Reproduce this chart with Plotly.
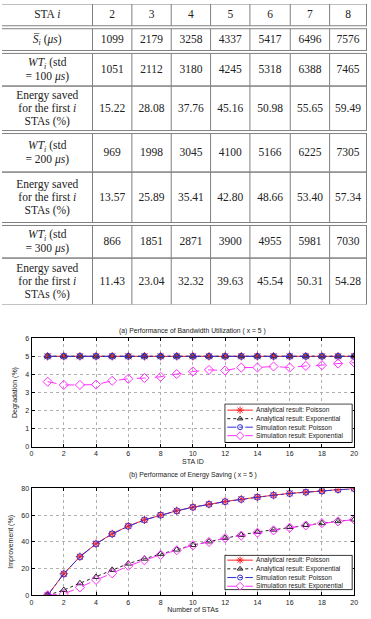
import plotly.graph_objects as go

W, H = 371, 619

# ---------------- table data ----------------
sta_ids = [2, 3, 4, 5, 6, 7, 8]
s_mean = [1099, 2179, 3258, 4337, 5417, 6496, 7576]
wt_100 = [1051, 2112, 3180, 4245, 5318, 6388, 7465]
e_100 = [15.22, 28.08, 37.76, 45.16, 50.98, 55.65, 59.49]
wt_200 = [969, 1998, 3045, 4100, 5166, 6225, 7305]
e_200 = [13.57, 25.89, 35.41, 42.80, 48.66, 53.40, 57.34]
wt_300 = [866, 1851, 2871, 3900, 4955, 5981, 7030]
e_300 = [11.43, 23.04, 32.32, 39.63, 45.54, 50.31, 54.28]

row_labels = [
    ["STA <i>i</i>"],
    ["<i>S̅</i><sub><i>i</i></sub> (<i>μs</i>)"],
    ["<i>WT</i><sub><i>i</i></sub> (std", "= 100 <i>μs</i>)"],
    ["Energy saved", "for the first <i>i</i>", "STAs (%)"],
    ["<i>WT</i><sub><i>i</i></sub> (std", "= 200 <i>μs</i>)"],
    ["Energy saved", "for the first <i>i</i>", "STAs (%)"],
    ["<i>WT</i><sub><i>i</i></sub> (std", "= 300 <i>μs</i>)"],
    ["Energy saved", "for the first <i>i</i>", "STAs (%)"],
]
row_values = [
    [str(v) for v in sta_ids],
    [str(v) for v in s_mean],
    [str(v) for v in wt_100],
    [f"{v:.2f}" for v in e_100],
    [str(v) for v in wt_200],
    [f"{v:.2f}" for v in e_200],
    [str(v) for v in wt_300],
    [f"{v:.2f}" for v in e_300],
]

# ---------------- chart data ----------------
sta_x = [1, 2, 3, 4, 5, 6, 7, 8, 9, 10, 11, 12, 13, 14, 15, 16, 17, 18, 19, 20]
a_ana_poisson = [5, 5, 5, 5, 5, 5, 5, 5, 5, 5, 5, 5, 5, 5, 5, 5, 5, 5, 5, 5]
a_ana_expo = [5, 5, 5, 5, 5, 5, 5, 5, 5, 5, 5, 5, 5, 5, 5, 5, 5, 5, 5, 5]
a_sim_poisson = [5, 5, 5, 5, 5, 5, 5, 5, 5, 5, 5, 5, 5, 5, 5, 5, 5, 5, 5, 5]
a_sim_expo = [3.6, 3.42, 3.42, 3.44, 3.65, 3.76, 3.8, 3.87, 4.02, 4.16,
              4.25, 4.22, 4.38, 4.38, 4.44, 4.38, 4.47, 4.51, 4.6, 4.65]

n_x = [1, 2, 3, 4, 5, 6, 7, 8, 9, 10, 11, 12, 13, 14, 15, 16, 17, 18, 19, 20]
b_ana_poisson = [0, 16.1, 28.9, 38.6, 46.0, 51.8, 56.5, 60.1, 63.3, 66.0,
                 68.2, 70.2, 71.9, 73.6, 75.0, 76.3, 77.3, 78.2, 79.2, 80.0]
b_sim_poisson = [0, 16.0, 28.8, 38.5, 45.9, 51.7, 56.4, 60.0, 63.2, 65.9,
                 68.1, 70.1, 71.8, 73.5, 74.9, 76.2, 77.2, 78.1, 79.1, 79.9]
b_ana_expo = [0, 3.9, 9.0, 13.7, 19.0, 23.7, 27.4, 31.0, 34.2, 37.6,
              40.3, 43.0, 45.2, 47.4, 49.1, 51.1, 52.6, 54.0, 55.5, 56.7]
b_sim_expo = [0, 1.0, 5.9, 11.5, 16.4, 22.0, 26.2, 30.3, 33.7, 37.4,
              39.9, 42.8, 44.7, 46.9, 48.6, 50.6, 52.3, 54.0, 55.3, 56.7]

series_names = ["Analytical result: Poisson", "Analytical result: Exponential",
                "Simulation result: Poisson", "Simulation result: Exponential"]

# ---------------- layout constants (pixels) ----------------
col_edges = [0, 92, 132, 172, 212, 252, 293, 333, 370.5]
row_px = [(0, 22), (25, 47), (50, 83), (83, 128), (131, 170), (170, 221), (224, 257), (257, 304)]
TABLE_BOTTOM = 304
LINE_GAP = {1: 0, 2: 13.5, 3: 13.3}

TF = "Liberation Serif"
CF = "Liberation Sans"
TXT = "#222222"
RULE = "#808080"

fig = go.Figure()
shapes = []
annotations = []

# ---------------- table (helper axes x5/y5 in pixel units) ----------------
cell_x, cell_y, cell_t = [], [], []
for lab_lines, vals, (t, b) in zip(row_labels, row_values, row_px):
    yc = (t + b) / 2 + 0.5
    n = len(lab_lines)
    for k, line in enumerate(lab_lines):
        cell_x.append((col_edges[0] + col_edges[1]) / 2)
        cell_y.append(yc + (k - (n - 1) / 2) * LINE_GAP[n])
        cell_t.append(line)
    for c, txt in enumerate(vals, start=1):
        cell_x.append((col_edges[c] + col_edges[c + 1]) / 2)
        cell_y.append(yc)
        cell_t.append(txt)
    for yy in (t, b):
        shapes.append(dict(type="line", xref="x5", yref="y5", x0=0, x1=W, y0=yy, y1=yy,
                           line=dict(color=RULE, width=1), layer="above"))
    for xe in col_edges[1:]:
        shapes.append(dict(type="line", xref="x5", yref="y5", x0=xe, x1=xe, y0=t, y1=b,
                           line=dict(color=RULE, width=1), layer="above"))

fig.add_trace(go.Scatter(
    x=cell_x, y=cell_y, text=cell_t, mode="text", textposition="middle center",
    textfont=dict(family=TF, size=11.5, color=TXT), xaxis="x5", yaxis="y5",
    showlegend=False, hoverinfo="skip"))

# ---------------- charts ----------------
styles = [
    dict(color="#ff2020", dash="solid", symbol="asterisk-open", size=7),
    dict(color="#222222", dash="dot", symbol="triangle-up-open", size=6),
    dict(color="#3030d8", dash="dashdot", symbol="circle-open", size=6),
    dict(color="#ff30ff", dash="dash", symbol="diamond-open", size=7),
]


def add_series(xs, ys_list, xa, ya):
    for name, ys, st in zip(series_names, ys_list, styles):
        fig.add_trace(go.Scatter(
            x=xs, y=ys, name=name, mode="lines+markers",
            xaxis=xa, yaxis=ya, showlegend=False,
            line=dict(color=st["color"], dash=st["dash"], width=1),
            marker=dict(symbol=st["symbol"], size=st["size"], color=st["color"],
                        line=dict(color=st["color"], width=1)),
        ))


add_series(sta_x, [a_ana_poisson, a_ana_expo, a_sim_poisson, a_sim_expo], "x", "y")
add_series(n_x, [b_ana_poisson, b_ana_expo, b_sim_poisson, b_sim_expo], "x2", "y2")

# ---------------- compact legends (helper axes x3/y3 and x4/y4, pixel units) ----------------
legend_boxes = [("x3", "y3", (226, 356.5, 404, 444), [6.8, 15.4, 24.0, 32.6]),
                ("x4", "y4", (226, 356.5, 557, 593), [5.5, 14.3, 23.1, 31.9])]
for xa, ya, (lx0, lx1, ly0, ly1), rows in legend_boxes:
    bw, bh = lx1 - lx0, ly1 - ly0
    fig.add_trace(go.Scatter(x=[0.5, bw - 0.5, bw - 0.5, 0.5, 0.5], y=[0.5, 0.5, bh - 0.5, bh - 0.5, 0.5],
                             mode="lines", fill="toself", fillcolor="white",
                             line=dict(color="black", width=1), xaxis=xa, yaxis=ya,
                             showlegend=False, hoverinfo="skip"))
    for name, st, ry in zip(series_names, styles, rows):
        fig.add_trace(go.Scatter(x=[3, 29], y=[ry, ry], mode="lines", xaxis=xa, yaxis=ya,
                                 line=dict(color=st["color"], dash=st["dash"], width=1),
                                 showlegend=False, hoverinfo="skip"))
        fig.add_trace(go.Scatter(x=[16], y=[ry], mode="markers", xaxis=xa, yaxis=ya,
                                 marker=dict(symbol=st["symbol"], size=st["size"] - 1, color=st["color"],
                                             line=dict(color=st["color"], width=1)),
                                 showlegend=False, hoverinfo="skip"))
        annotations.append(dict(text=name, xref=xa, yref=ya, x=30.5, y=ry, xanchor="left",
                                yanchor="middle", showarrow=False,
                                font=dict(family=CF, size=6.6, color=TXT)))

axis_common = dict(showline=True, linecolor="black", linewidth=1, mirror="ticks",
                   ticks="inside", ticklen=3, tickcolor="black",
                   showgrid=True, gridcolor="#b0b0b0", griddash="dot", gridwidth=1,
                   zeroline=False, tickfont=dict(family=CF, size=7, color=TXT))
hidden = dict(visible=False, showgrid=False, zeroline=False, fixedrange=True)

xd = [30 / W, 358 / W]
title_font = dict(family=CF, size=6.8, color=TXT)
axis_title_font = dict(family=CF, size=7, color=TXT)


def px_dom(top, bottom):
    return [1 - bottom / H, 1 - top / H]


fig.update_layout(
    width=W, height=H, margin=dict(l=0, r=0, t=0, b=0),
    paper_bgcolor="white", plot_bgcolor="white", showlegend=False,
    xaxis=dict(domain=xd, anchor="y", range=[0, 20], dtick=2, **axis_common,
               title=dict(text="STA ID", font=axis_title_font, standoff=2)),
    yaxis=dict(domain=px_dom(338, 448), anchor="x", range=[0, 6], dtick=1, **axis_common,
               title=dict(text="Degradation (%)", font=axis_title_font, standoff=6)),
    xaxis2=dict(domain=xd, anchor="y2", range=[0, 20], dtick=2, **axis_common,
                title=dict(text="Number of STAs", font=axis_title_font, standoff=1)),
    yaxis2=dict(domain=px_dom(490, 598), anchor="x2", range=[0, 80], dtick=20, **axis_common,
                title=dict(text="Improvement (%)", font=axis_title_font, standoff=6)),
    xaxis3=dict(domain=[226 / W, 356.5 / W], anchor="y3", range=[0, 130.5], **hidden),
    yaxis3=dict(domain=px_dom(404, 444), anchor="x3", range=[40, 0], **hidden),
    xaxis4=dict(domain=[226 / W, 356.5 / W], anchor="y4", range=[0, 130.5], **hidden),
    yaxis4=dict(domain=px_dom(557, 593), anchor="x4", range=[36, 0], **hidden),
    xaxis5=dict(domain=[0, 1], anchor="y5", range=[0, W], **hidden),
    yaxis5=dict(domain=px_dom(0, TABLE_BOTTOM), anchor="x5", range=[TABLE_BOTTOM, 0], **hidden),
    shapes=shapes,
    annotations=annotations + [
        dict(text="(a) Performance of Bandwidth Utilization ( x = 5 )", x=(xd[0] + xd[1]) / 2,
             y=1 - 331 / H, xref="paper", yref="paper", showarrow=False, font=title_font),
        dict(text="(b) Performance of Energy Saving ( x = 5 )", x=(xd[0] + xd[1]) / 2,
             y=1 - 482 / H, xref="paper", yref="paper", showarrow=False, font=title_font),
    ],
)

fig.write_html("out.html")
